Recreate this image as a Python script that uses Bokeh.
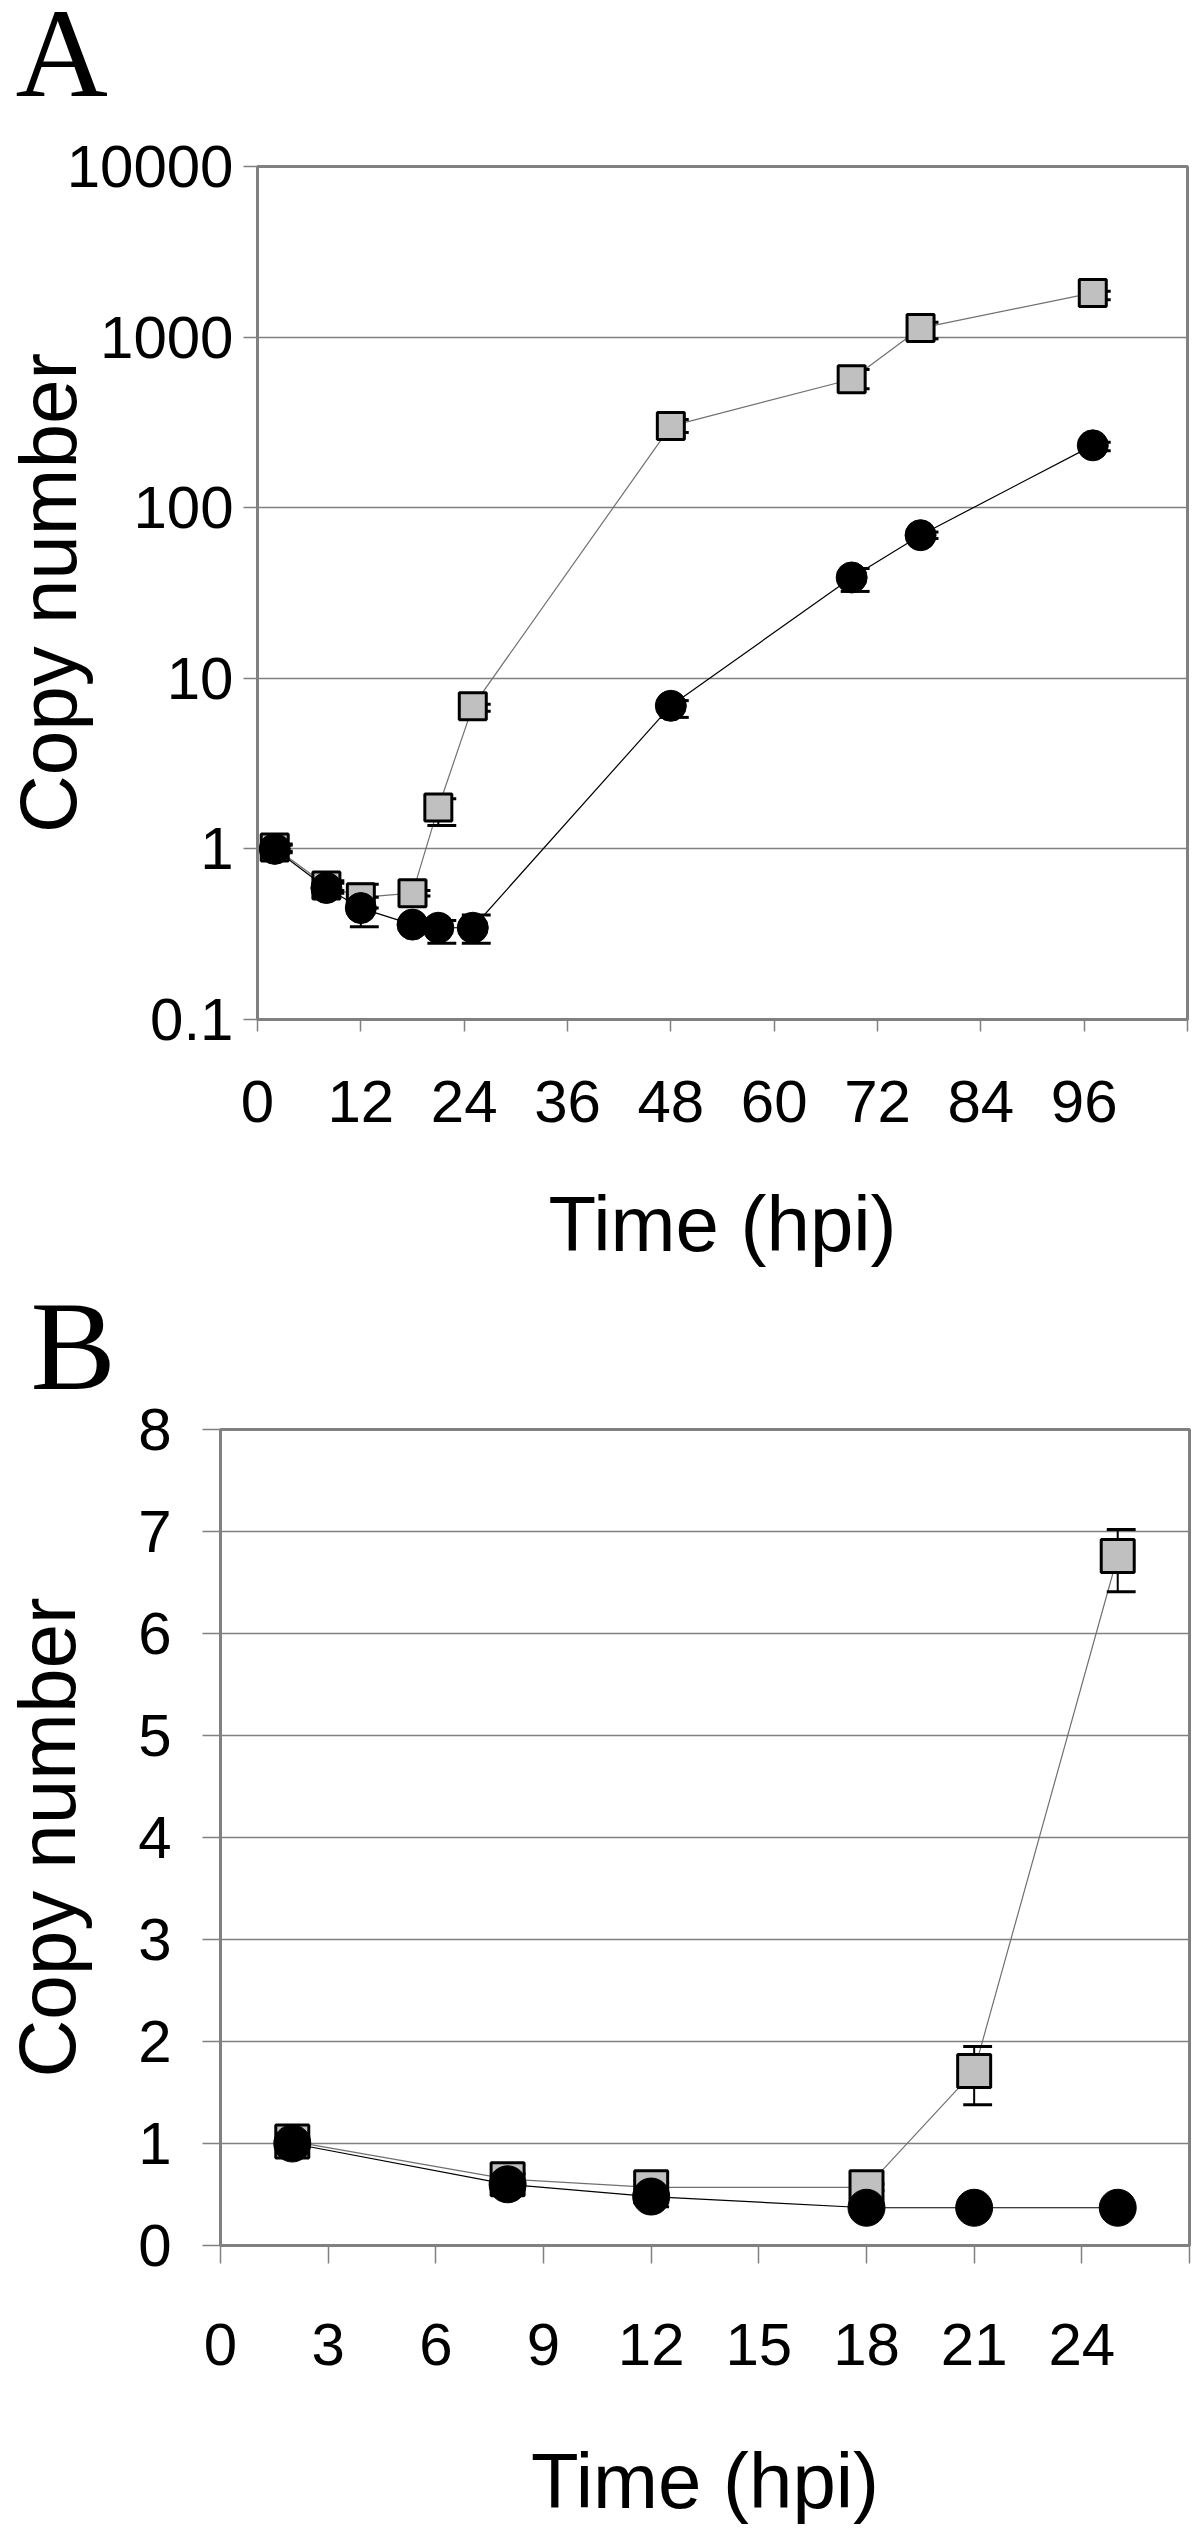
from bokeh.plotting import figure
from bokeh.models import Range1d, FixedTicker, CustomJSTickFormatter
from bokeh.layouts import column
from bokeh.embed import file_html
from bokeh.resources import INLINE
from bokeh.core.properties import value

# ---------------- Panel A data (log scale, 0-108 hpi) ----------------
time_a = [2, 8, 12, 18, 21, 25, 48, 69, 77, 97]
square_a = [1.02, 0.61, 0.52, 0.55, 1.75, 6.85, 301, 566, 1130, 1815]
square_lo_a = [0.97, 0.57, 0.45, 0.53, 1.37, 6.4, 276, 498, 977, 1656]
square_hi_a = [1.07, 0.65, 0.62, 0.57, 1.97, 7.05, 329, 646, 1222, 1858]
circle_a = [1.0, 0.59, 0.45, 0.36, 0.345, 0.345, 6.9, 39, 69, 232]
circle_lo_a = [0.95, 0.55, 0.35, 0.34, 0.28, 0.28, 5.9, 32.3, 66, 216]
circle_hi_a = [1.05, 0.63, 0.52, 0.38, 0.38, 0.41, 7.4, 44, 72, 242]
x_ticks_a = [0, 12, 24, 36, 48, 60, 72, 84, 96, 108]
x_labels_a = ["0", "12", "24", "36", "48", "60", "72", "84", "96", ""]
y_ticks_a = [0.1, 1, 10, 100, 1000, 10000]
y_labels_a = ["0.1", "1", "10", "100", "1000", "10000"]

# ---------------- Panel B data (linear, 0-27 hpi) ----------------
time_b = [2, 8, 12, 18, 21, 25]
square_b = [1.02, 0.65, 0.57, 0.57, 1.71, 6.76]
square_lo_b = [0.98, 0.60, 0.52, 0.54, 1.38, 6.41]
square_hi_b = [1.06, 0.70, 0.62, 0.60, 1.95, 7.02]
circle_b = [1.0, 0.60, 0.48, 0.37, 0.37, 0.37]
circle_lo_b = [0.96, 0.55, 0.38, 0.35, 0.35, 0.35]
circle_hi_b = [1.04, 0.64, 0.55, 0.39, 0.39, 0.39]
x_ticks_b = [0, 3, 6, 9, 12, 15, 18, 21, 24, 27]
x_labels_b = ["0", "3", "6", "9", "12", "15", "18", "21", "24", ""]
y_ticks_b = [0, 1, 2, 3, 4, 5, 6, 7, 8]
y_labels_b = ["0", "1", "2", "3", "4", "5", "6", "7", "8"]

Y_TITLE = "Copy number"
X_TITLE = "Time (hpi)"

SANS = "Liberation Sans"
SERIF = "Liberation Serif"
GRAY = "#808080"
FILL = "#c0c0c0"
W = 1200

FMT = ("let k = -1; for (let j = 0; j < tvals.length; j++) { "
       "if (Math.abs(tvals[j] - tick) < 1e-9 * Math.max(1, Math.abs(tick))) { k = j; } } "
       "return k >= 0 ? tlabs[k] : '';")


def no_align(f):
    # keep each plot's frame where it is set (no frame alignment inside the column)
    if "frame_align" in f.properties():
        f.frame_align = False


def letter_strip(letter, height, x_px, center_px):
    s = figure(width=W, height=height, x_range=Range1d(0, W), y_range=Range1d(0, height),
               title=None, output_backend="svg", toolbar_location=None,
               x_axis_location=None, y_axis_location=None,
               min_border_left=0, min_border_right=0, min_border_top=0, min_border_bottom=0)
    s.grid.visible = False
    s.outline_line_color = None
    s.background_fill_color = "white"
    s.border_fill_color = "white"
    s.text(x=[x_px], y=[height - center_px], text=[letter], text_font=value(SERIF),
           text_font_size="128px", text_align="left", text_baseline="middle",
           text_color="black")
    no_align(s)
    return s


def build(height, borders, x_rng, y_rng, log, xt, xl, yt, yl,
          tick_x_out, tick_y_out, xstand, ystand, axis_w, ylab_stand, xlab_stand,
          t, sq, sq_lo, sq_hi, ci, ci_lo, ci_hi, sq_size, ci_size):
    left, right, top, bottom = borders
    p = figure(width=W, height=height, title=None,
               x_range=Range1d(*x_rng), y_range=Range1d(*y_rng),
               y_axis_type="log" if log else "linear",
               output_backend="svg", toolbar_location=None,
               min_border_left=left, min_border_right=right,
               min_border_top=top, min_border_bottom=bottom)
    no_align(p)
    p.background_fill_color = "white"
    p.border_fill_color = "white"
    p.outline_line_color = GRAY
    p.outline_line_width = 3

    p.xgrid.visible = False
    p.ygrid.grid_line_color = GRAY
    p.ygrid.grid_line_width = 1.5
    p.ygrid.ticker = FixedTicker(ticks=yt)

    xa = p.xaxis[0]
    xa.ticker = FixedTicker(ticks=xt)
    xa.formatter = CustomJSTickFormatter(args=dict(tvals=xt, tlabs=xl), code=FMT)
    xa.major_tick_out = tick_x_out
    xa.major_label_standoff = xstand
    xa.axis_label = X_TITLE
    xa.axis_label_standoff = xlab_stand
    xa.axis_label_text_font_size = "78px"
    ya = p.yaxis[0]
    ya.ticker = FixedTicker(ticks=yt)
    ya.formatter = CustomJSTickFormatter(args=dict(tvals=yt, tlabs=yl), code=FMT)
    ya.major_tick_out = tick_y_out
    ya.major_label_standoff = ystand
    ya.axis_label = Y_TITLE
    ya.axis_label_standoff = ylab_stand
    ya.axis_label_text_font_size = "80px"
    for ax in (xa, ya):
        ax.major_tick_in = 0
        ax.minor_tick_out = 0
        ax.minor_tick_in = 0
        ax.axis_line_color = GRAY
        ax.axis_line_width = axis_w
        ax.major_tick_line_color = GRAY
        ax.major_tick_line_width = 1.5
        ax.major_label_text_font = SANS
        ax.major_label_text_font_size = "60px"
        ax.major_label_text_color = "black"
        ax.axis_label_text_font = SANS
        ax.axis_label_text_font_style = "normal"
        ax.axis_label_text_color = "black"

    # caps offset (Excel style): 11 px left, 18 px right of the point
    fw = W - left - right
    per_px = (x_rng[1] - x_rng[0]) / fw
    capl, capr = 11 * per_px, 18 * per_px

    # connecting lines
    p.line(t, sq, line_color="#707070", line_width=1.2)
    p.line(t, ci, line_color="black", line_width=1.2)

    # error bars
    for lo, hi in ((sq_lo, sq_hi), (ci_lo, ci_hi)):
        p.segment(x0=t, y0=lo, x1=t, y1=hi, line_color="black", line_width=2)
        p.segment(x0=[v - capl for v in t], y0=lo, x1=[v + capr for v in t], y1=lo,
                  line_color="black", line_width=3)
        p.segment(x0=[v - capl for v in t], y0=hi, x1=[v + capr for v in t], y1=hi,
                  line_color="black", line_width=3)

    # markers
    p.scatter(t, sq, marker="square", size=sq_size, fill_color=FILL,
              line_color="black", line_width=3)
    p.scatter(t, ci, marker="circle", size=ci_size, fill_color="black",
              line_color="black", line_width=1)
    return p


# Panel A: page rows 0-120 (letter), 120-1290 (plot; frame 166..1019, x 253..1187)
sA = letter_strip("A", 120, 15, 52)
pA = build(1170, (253, 13, 46, 271), (0, 108), (0.1, 10000), True,
           x_ticks_a, x_labels_a, y_ticks_a, y_labels_a,
           12, 14, 49, 10, 2.5, -29, 55,
           time_a, square_a, square_lo_a, square_hi_a,
           circle_a, circle_lo_a, circle_hi_a, 27, 31)

# Panel B: page rows 1290-1395 (letter), 1395-2532 (plot; frame 1429..2245, x 216..1189)
sB = letter_strip("B", 105, 30, 55)
pB = build(1137, (216, 11, 34, 287), (0, 27), (0, 8), False,
           x_ticks_b, x_labels_b, y_ticks_b, y_labels_b,
           18, 18, 60, 31, 2, 43, 69,
           time_b, square_b, square_lo_b, square_hi_b,
           circle_b, circle_lo_b, circle_hi_b, 33, 37)

layout = column(sA, pA, sB, pB, spacing=0)
open("out.html", "w").write(file_html(layout, INLINE))
